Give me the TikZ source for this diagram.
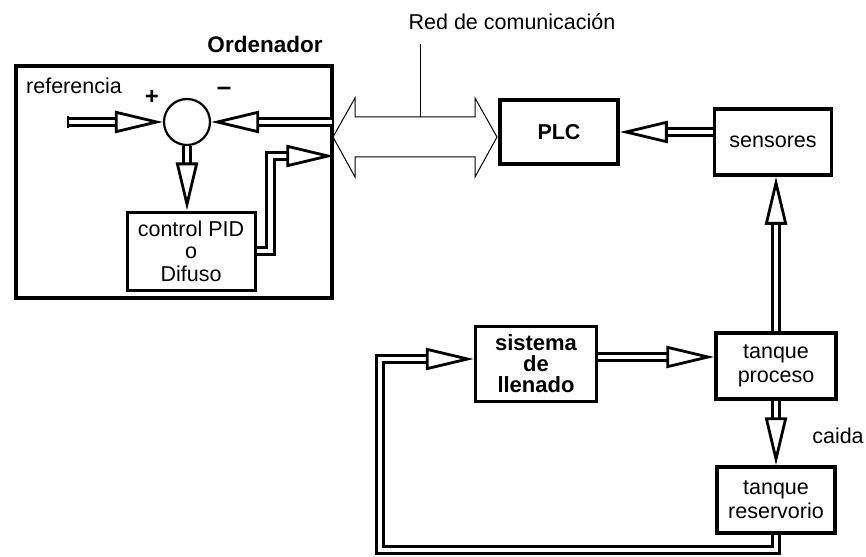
\documentclass[tikz,border=0pt]{standalone}
\usepackage{fontspec}
\setmainfont{Liberation Sans}
\usetikzlibrary{arrows.meta,calc}

\begin{document}
\begin{tikzpicture}[
  x=1pt,y=-1pt,
  font=\fontsize{21.5}{24}\selectfont,
  line join=miter,
  block/.style={draw,line width=3.5pt,inner sep=0pt,align=center},
  flow/.style={double,double distance=4.6pt,line width=3pt,
               -{Triangle[length=48pt,width=22pt,fill=white,line width=2.8pt]}},
  netline/.style={line width=1pt}
]
\useasboundingbox (0,0) rectangle (866,556);
% ordenador
\node[draw,line width=4.5pt,minimum width=316pt,minimum height=232pt] (ord) at (174,182) {};
\node[font=\fontsize{22.5}{24}\selectfont\bfseries] (ordlbl) at (265,44) {Ordenador};
\node[circle,draw,line width=2.2pt,minimum size=46pt,inner sep=0pt] (sum) at (187,122) {};
\node (reflbl) at (74,86) {referencia};
\node[font=\fontsize{24}{24}\selectfont\bfseries] (plus) at (152,97) {+};
\node[font=\fontsize{26}{26}\selectfont\bfseries] (minus) at (224,91) {–};
\node[block,line width=3pt,minimum width=128pt,minimum height=78pt,
      font=\fontsize{21.5}{22.5}\selectfont] (pid) at (191,251) {control PID\\o\\Difuso};
% red y planta
\node (redlbl) at (512,22) {Red de comunicación};
\node[block,minimum width=118pt,minimum height=64pt,font=\fontsize{21.5}{24}\selectfont\bfseries] (plc) at (559,132) {PLC};
\node[block,minimum width=117pt,minimum height=66pt] (sens) at (773,142) {sensores};
\node[block,minimum width=121pt,minimum height=75pt,font=\fontsize{22}{21}\selectfont\bfseries] (sist) at (536,364) {sistema\\de\\llenado};
\node[block,minimum width=120pt,minimum height=66pt] (tproc) at (776,366) {tanque\\proceso};
\node[block,minimum width=118pt,minimum height=66pt] (tres) at (776,500) {tanque\\reservorio};
\node (caida) at (838,436) {caida};
% conexiones
\coordinate (refin) at (68,122);
\draw[flow] (refin) -- (sum.west);
\draw[line width=2.5pt] ([yshift=5.6pt]refin) -- ([yshift=-5.6pt]refin);
\draw[flow] ([xshift=-2.3pt]sum.east -| ord.east) -- (sum.east);
\draw[flow] (sum.south) -- (sum.south |- pid.north);
\draw[flow] (pid.east) -- ++(14,0) |- ([yshift=26pt]ord.east);
\coordinate (netL) at (333,137);
\coordinate (netR) at (497,137);
\coordinate (nettop) at (420,117);
\coordinate (redtick) at (420,44);
\draw[netline] (netL) -- ++(22,-39) -- ++(0,19) -- ++(120,0) -- ++(0,-19) -- (netR)
  -- ++(-22,40) -- ++(0,-20) -- ++(-120,0) -- ++(0,20) -- cycle;
\draw[netline] (redtick) -- (nettop);
\draw[flow] (sens.west |- plc.east) -- (plc.east);
\draw[flow] (tproc.north) -- (tproc.north |- sens.south);
\draw[flow] (tproc.south) -- (tres.north);
\draw[flow] ([yshift=7pt]sist.east) -- ([yshift=7pt]sist.east -| tproc.west);
\coordinate (fbcorner) at (380,550);
\draw[flow] (tres.south) |- (fbcorner) |- ([yshift=5pt]sist.west);
\end{tikzpicture}
\end{document}
